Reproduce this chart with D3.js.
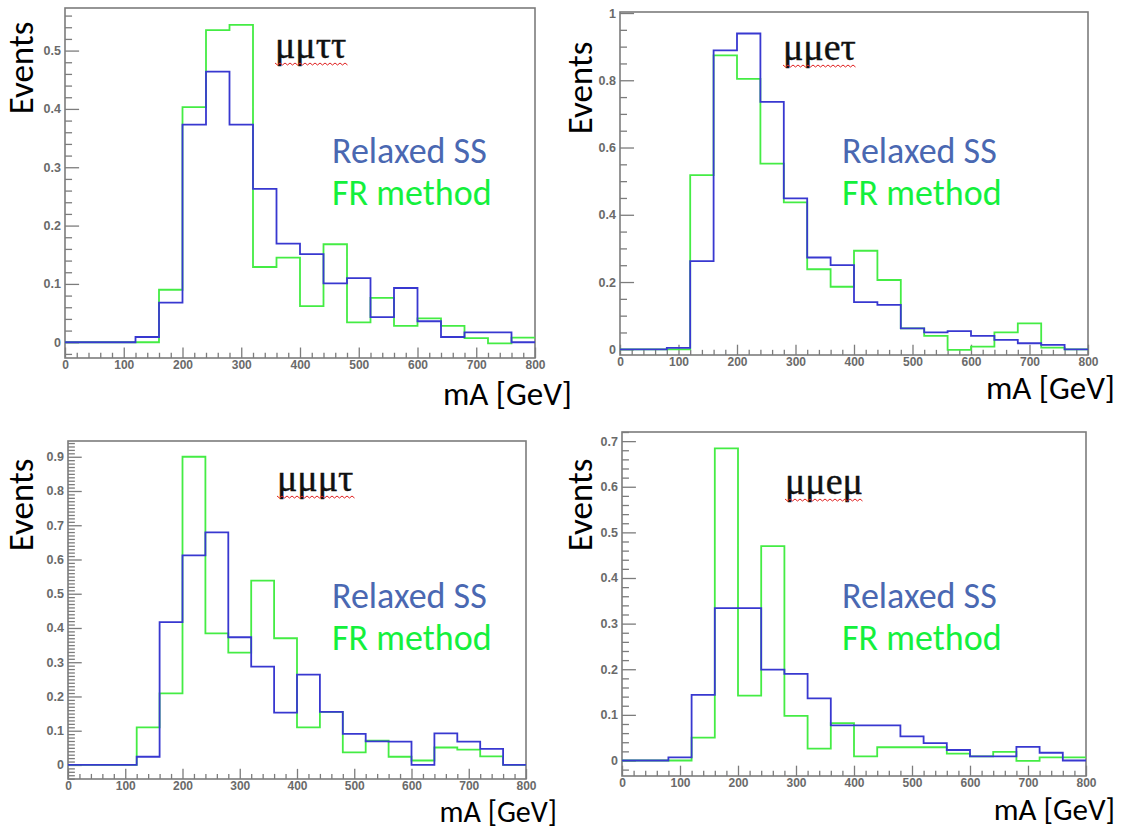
<!DOCTYPE html>
<html>
<head>
<meta charset="utf-8">
<script src="https://cdn.jsdelivr.net/npm/d3@7"></script>
<style>
  html, body { margin: 0; padding: 0; background: #ffffff; }
  svg { display: block; }
</style>
</head>
<body>
<svg id="chart" width="1128" height="829"></svg>
<script>
// Bin edges of mA [GeV]: 20 bins of 40 GeV from 0 to 800
const binEdges = d3.range(0, 801, 40);

const channels = ["μμττ", "μμeτ", "μμμτ", "μμeμ"];
const seriesNames = ["Relaxed SS", "FR method"];

// Relaxed SS (blue) and FR method (green) yields per bin
const relaxedMuMuTauTau = [0, 0, 0, 0.009, 0.068, 0.373, 0.464, 0.373, 0.263, 0.169, 0.151, 0.101, 0.110, 0.043, 0.093, 0.036, 0.009, 0.017, 0.017, 0];
const frMuMuTauTau      = [0, 0, 0, 0, 0.090, 0.403, 0.535, 0.544, 0.129, 0.145, 0.062, 0.168, 0.034, 0.076, 0.028, 0.041, 0.028, 0.007, -0.002, 0.008];

const relaxedMuMuETau = [0, 0, 0.004, 0.262, 0.889, 0.939, 0.736, 0.449, 0.273, 0.250, 0.140, 0.132, 0.062, 0.050, 0.054, 0.040, 0.028, 0.018, 0.013, 0];
const frMuMuETau      = [0, 0, 0, 0.518, 0.874, 0.804, 0.552, 0.437, 0.238, 0.186, 0.293, 0.206, 0.062, 0.040, -0.002, 0.008, 0.050, 0.077, 0.005, 0];

const relaxedMuMuMuTau = [0, 0, 0, 0.024, 0.417, 0.612, 0.679, 0.373, 0.287, 0.153, 0.264, 0.155, 0.091, 0.069, 0.068, 0, 0.092, 0.068, 0.047, 0];
const frMuMuMuTau      = [0, 0, 0, 0.110, 0.209, 0.900, 0.384, 0.328, 0.538, 0.370, 0.110, 0.155, 0.037, 0.071, 0.024, 0.013, 0.051, 0.045, 0.025, 0];

const relaxedMuMuEMu = [0, 0, 0.007, 0.144, 0.334, 0.334, 0.199, 0.190, 0.136, 0.077, 0.077, 0.077, 0.053, 0.038, 0.023, 0.009, 0.009, 0.030, 0.017, 0];
const frMuMuEMu      = [0, 0, 0, 0.050, 0.684, 0.142, 0.470, 0.098, 0.026, 0.082, 0.009, 0.029, 0.029, 0.029, 0.015, 0.009, 0.019, -0.001, 0.007, 0.007];

// Axis tick labels
const xTickLabels = ["0", "100", "200", "300", "400", "500", "600", "700", "800"];
const yTickLabels1 = ["0", "0.1", "0.2", "0.3", "0.4", "0.5"];
const yTickLabels2 = ["0", "0.2", "0.4", "0.6", "0.8", "1"];
const yTickLabels3 = ["0", "0.1", "0.2", "0.3", "0.4", "0.5", "0.6", "0.7", "0.8", "0.9"];
const yTickLabels4 = ["0", "0.1", "0.2", "0.3", "0.4", "0.5", "0.6", "0.7"];

const relaxedSeries = [relaxedMuMuTauTau, relaxedMuMuETau, relaxedMuMuMuTau, relaxedMuMuEMu];
const frSeries = [frMuMuTauTau, frMuMuETau, frMuMuMuTau, frMuMuEMu];
const yTickSets = [yTickLabels1, yTickLabels2, yTickLabels3, yTickLabels4];

// Pad layout: frame box, y range and minor tick step for each pad
const pads = [
  { left: 65,  right: 535,  top: 8,   bottom: 358, yMin: -0.027, yMax: 0.573, minor: 0.02, titleX: 275, titleY: 58,
    legX: 332, legY: 163, evX: 33,  evY: 68,  axX: 572,  axY: 405, axSize: 33 },
  { left: 620, right: 1088, top: 12,  bottom: 355, yMin: -0.017, yMax: 1.003, minor: 0.05, titleX: 783, titleY: 60,
    legX: 842, legY: 163, evX: 592, evY: 88,  axX: 1115, axY: 399, axSize: 33 },
  { left: 68,  right: 526,  top: 441, bottom: 779, yMin: -0.041, yMax: 0.946, minor: 0.01, titleX: 277, titleY: 491,
    legX: 332, legY: 608, evX: 33,  evY: 505, axX: 557,  axY: 822, axSize: 30 },
  { left: 622, right: 1086, top: 432, bottom: 776, yMin: -0.034, yMax: 0.720, minor: 0.02, titleX: 785, titleY: 494,
    legX: 842, legY: 608, evX: 592, evY: 505, axX: 1115, axY: 820, axSize: 31 }
];

const BLUE_LINE = "#3838d0";
const GREEN_LINE = "#44ec44";
const BLUE_TEXT = "#4a68b2";
const GREEN_TEXT = "#14f03c";
const FRAME = "#7c7c7c";
const LABEL_FONT = "Carlito, Calibri, Lato, 'Open Sans', sans-serif";
const TICK_FONT = "'Liberation Sans', Arial, sans-serif";

const svg = d3.select("#chart");

pads.forEach((p, i) => {
  const g = svg.append("g");
  const x = d3.scaleLinear().domain([0, 800]).range([p.left, p.right]);
  const y = d3.scaleLinear().domain([p.yMin, p.yMax]).range([p.bottom, p.top]);
  const w = p.right - p.left, h = p.bottom - p.top;

  // Frame
  g.append("rect")
    .attr("x", p.left).attr("y", p.top).attr("width", w).attr("height", h)
    .attr("fill", "none").attr("stroke", FRAME).attr("stroke-width", 1.6);

  // X axis: major every 100, minor every 20, ticks pointing inside
  const xMajor = xTickLabels.map(Number);
  const xMinor = d3.range(0, 801, 20).filter(v => v % 100 !== 0);
  const xMajLen = 0.03 * h, xMinLen = 0.015 * h;
  const xAxisMajor = d3.axisBottom(x).tickValues(xMajor).tickSizeInner(-xMajLen).tickSizeOuter(0).tickPadding(2)
    .tickFormat((d, k) => xTickLabels[k]);
  const xAxisMinor = d3.axisBottom(x).tickValues(xMinor).tickSizeInner(-xMinLen).tickSizeOuter(0).tickFormat("");
  const gx = g.append("g").attr("transform", `translate(0,${p.bottom})`).call(xAxisMajor);
  g.append("g").attr("transform", `translate(0,${p.bottom})`).call(xAxisMinor)
    .call(s => s.select(".domain").remove())
    .selectAll("line").attr("stroke", FRAME).attr("stroke-width", 1.3);
  gx.select(".domain").remove();
  gx.selectAll("line").attr("stroke", FRAME).attr("stroke-width", 1.3);
  gx.selectAll("text").attr("font-family", TICK_FONT)
    .attr("font-size", 12).attr("fill", "#6a6a6a").attr("font-weight", "bold");

  // Y axis: labelled majors plus minor ticks filling the frame height
  const labels = yTickSets[i];
  const yMajor = labels.map(Number);
  const majStep = yMajor[1] - yMajor[0];
  const yMinor = d3.range(Math.ceil(p.yMin / p.minor), Math.floor(p.yMax / p.minor) + 1)
    .map(k => +(k * p.minor).toFixed(4))
    .filter(v => Math.abs(v / majStep - Math.round(v / majStep)) > 1e-6 || v < 0 || v > yMajor[yMajor.length - 1] + 1e-9);
  const yMajLen = 0.03 * w, yMinLen = 0.015 * w;
  const yAxisMajor = d3.axisLeft(y).tickValues(yMajor).tickSizeInner(-yMajLen).tickSizeOuter(0).tickPadding(4)
    .tickFormat((d, k) => labels[k]);
  const yAxisMinor = d3.axisLeft(y).tickValues(yMinor).tickSizeInner(-yMinLen).tickSizeOuter(0).tickFormat("");
  const gy = g.append("g").attr("transform", `translate(${p.left},0)`).call(yAxisMajor);
  g.append("g").attr("transform", `translate(${p.left},0)`).call(yAxisMinor)
    .call(s => s.select(".domain").remove())
    .selectAll("line").attr("stroke", FRAME).attr("stroke-width", 1.3);
  gy.select(".domain").remove();
  gy.selectAll("line").attr("stroke", FRAME).attr("stroke-width", 1.3);
  gy.selectAll("text").attr("font-family", TICK_FONT)
    .attr("font-size", 12.5).attr("fill", "#6a6a6a").attr("font-weight", "bold");

  // Histogram outlines as step lines
  const step = d3.line().x(d => x(d[0])).y(d => y(d[1])).curve(d3.curveStepAfter);
  const toPoints = vals => vals.map((v, k) => [binEdges[k], v]).concat([[binEdges[vals.length], vals[vals.length - 1]]]);

  g.append("path").datum(toPoints(frSeries[i]))
    .attr("d", step).attr("fill", "none").attr("stroke", GREEN_LINE).attr("stroke-width", 1.8);
  g.append("path").datum(toPoints(relaxedSeries[i]))
    .attr("d", step).attr("fill", "none").attr("stroke", BLUE_LINE).attr("stroke-width", 1.8);

  // Channel name with red wavy underline
  const title = g.append("text")
    .attr("x", p.titleX).attr("y", p.titleY)
    .attr("font-family", "'Liberation Serif', 'DejaVu Serif', serif")
    .attr("font-size", 38).attr("fill", "#111")
    .attr("stroke", "#111").attr("stroke-width", 0.4)
    .text(channels[i]);
  const tw = title.node().getComputedTextLength();
  const wave = [];
  for (let k = 0; k <= Math.round(tw / 2.5); k++) {
    wave.push([p.titleX + k * 2.5, p.titleY + 5 + (k % 2 ? 2 : 0)]);
  }
  g.append("path").attr("d", d3.line()(wave)).attr("fill", "none").attr("stroke", "#e02020").attr("stroke-width", 1);

  // Legend text
  g.append("text").attr("x", p.legX).attr("y", p.legY)
    .attr("font-family", LABEL_FONT).attr("font-size", 36).attr("fill", BLUE_TEXT)
    .text(seriesNames[0]);
  g.append("text").attr("x", p.legX).attr("y", p.legY + 42)
    .attr("font-family", LABEL_FONT).attr("font-size", 36).attr("fill", GREEN_TEXT)
    .text(seriesNames[1]);

  // Axis titles
  g.append("text")
    .attr("transform", `translate(${p.evX},${p.evY}) rotate(-90)`)
    .attr("text-anchor", "middle")
    .attr("font-family", LABEL_FONT).attr("font-size", 35).attr("fill", "#000")
    .text("Events");
  g.append("text")
    .attr("x", p.axX).attr("y", p.axY).attr("text-anchor", "end")
    .attr("font-family", LABEL_FONT).attr("font-size", p.axSize).attr("fill", "#000")
    .text("mA [GeV]");
});
</script>
</body>
</html>
